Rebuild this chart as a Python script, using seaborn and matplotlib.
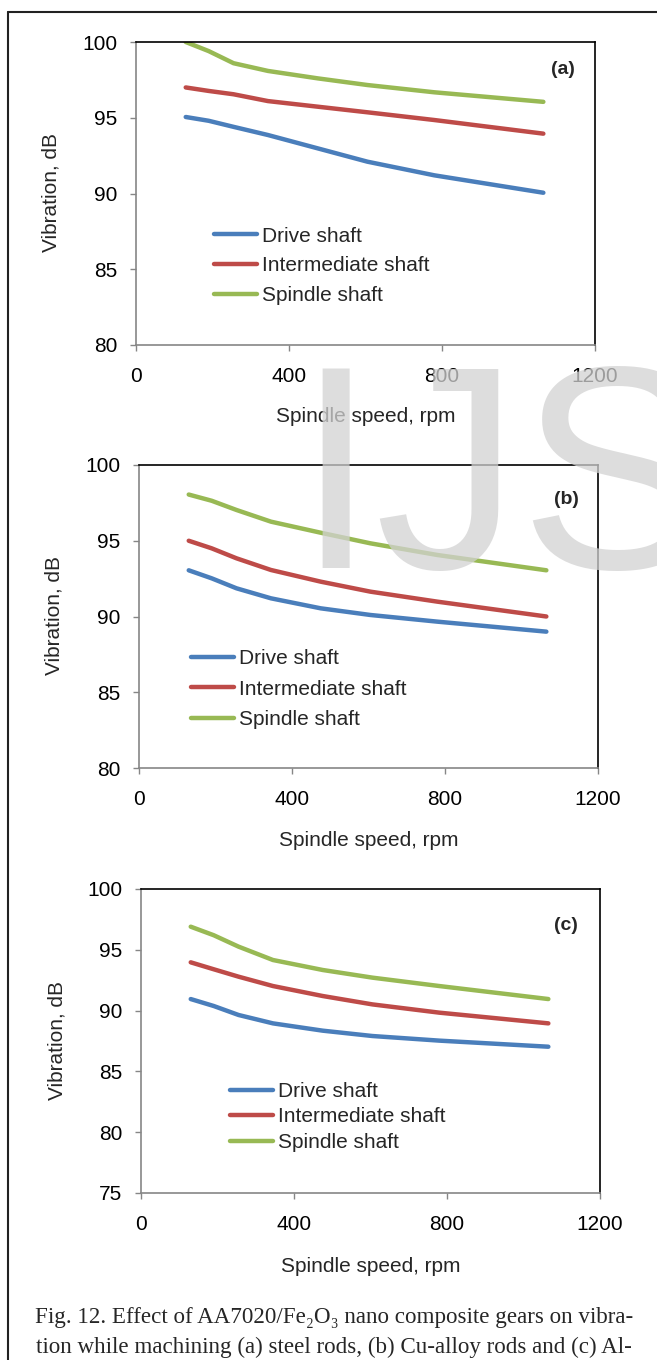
import pandas as pd
import seaborn as sns
import matplotlib.pyplot as plt
from matplotlib.lines import Line2D

# spindle speed (rpm) and vibration (dB)
speed = [130, 190, 255, 345, 475, 605, 780, 1065]
series = ["Drive shaft", "Intermediate shaft", "Spindle shaft"]

steel_drive = [95.05, 94.8, 94.4, 93.86, 92.98, 92.1, 91.2, 90.05]
steel_inter = [97.0, 96.77, 96.55, 96.1, 95.73, 95.36, 94.85, 93.95]
steel_spindle = [100.0, 99.4, 98.6, 98.09, 97.6, 97.16, 96.68, 96.05]

cu_drive = [93.05, 92.52, 91.86, 91.2, 90.54, 90.1, 89.66, 89.0]
cu_inter = [95.0, 94.5, 93.84, 93.07, 92.3, 91.64, 90.98, 90.0]
cu_spindle = [98.05, 97.64, 97.03, 96.26, 95.53, 94.83, 94.06, 93.05]

al_drive = [90.95, 90.38, 89.64, 88.95, 88.35, 87.91, 87.53, 87.03]
al_inter = [93.97, 93.4, 92.79, 92.02, 91.2, 90.51, 89.83, 88.95]
al_spindle = [96.9, 96.2, 95.26, 94.16, 93.34, 92.71, 92.02, 90.95]

panel_tags = ["(a)", "(b)", "(c)"]
x_ticks = [0, 400, 800, 1200]
y_ticks_ab = [80, 85, 90, 95, 100]
y_ticks_c = [75, 80, 85, 90, 95, 100]

caption_1 = "Fig. 12. Effect of AA7020/Fe\u2082O\u2083 nano composite gears on vibra-"
caption_2 = "tion while machining (a) steel rods, (b) Cu-alloy rods and (c) Al-"

W, H = 657, 1360
colors = ["#4A7EBB", "#BE4B48", "#98B954"]

sns.set_style("white")
plt.rcParams['font.family'] = ['Liberation Sans', 'DejaVu Sans']
plt.rcParams['font.size'] = 15


def frac(x0, y0, x1, y1):
    # pixel box -> figure fraction [left, bottom, width, height]
    return [x0 / W, 1 - y1 / H, (x1 - x0) / W, (y1 - y0) / H]


def long_form(vals):
    rows = []
    for name, v in zip(series, vals):
        for s, y in zip(speed, v):
            rows.append({"speed": s, "vib": y, "series": name})
    return pd.DataFrame(rows)


fig = plt.figure(figsize=(W / 100, H / 100), dpi=100)

panels = [
    dict(box=(136, 42, 595, 345), data=[steel_drive, steel_inter, steel_spindle], yt=y_ticks_ab,
         leg=(214, 266), lsp=0.52, ylab=(51, 193), xlab=417, tag=(563, 70)),
    dict(box=(139, 465, 598, 768), data=[cu_drive, cu_inter, cu_spindle], yt=y_ticks_ab,
         leg=(191, 689), lsp=0.55, ylab=(54, 616), xlab=840, tag=(566, 500)),
    dict(box=(141, 889, 600, 1193), data=[al_drive, al_inter, al_spindle], yt=y_ticks_c,
         leg=(230, 1117), lsp=0.32, ylab=(57, 1041), xlab=1266, tag=(566, 925)),
]

for p, tag in zip(panels, panel_tags):
    x0, y0, x1, y1 = p["box"]
    ax = fig.add_axes(frac(x0, y0, x1, y1))
    df = long_form(p["data"])
    sns.lineplot(data=df, x="speed", y="vib", hue="series", palette=colors,
                 linewidth=3.2, ax=ax, sort=False,
                 solid_capstyle="round", solid_joinstyle="round")
    ax.set_xlim(0, 1200)
    ax.set_ylim(p["yt"][0], p["yt"][-1])
    ax.set_xticks(x_ticks)
    ax.set_yticks(p["yt"])
    ax.set_xlabel("")
    ax.set_ylabel("")
    ax.tick_params(axis="both", direction="out", length=4.5, width=1, color="#868686",
                   labelsize=15, labelcolor="black")
    ax.tick_params(axis="x", pad=11)
    ax.tick_params(axis="y", pad=9)
    ax.tick_params(bottom=True, left=True)
    for side in ["left", "bottom"]:
        ax.spines[side].set_color("#868686")
        ax.spines[side].set_linewidth(1.2)
    for side in ["top", "right"]:
        ax.spines[side].set_color("black")
        ax.spines[side].set_linewidth(1.2)

    lx, ly = p["leg"]
    handles, labels = ax.get_legend_handles_labels()
    ax.legend(handles, labels, loc="center left",
              bbox_to_anchor=((lx - x0) / (x1 - x0), (y1 - ly) / (y1 - y0)),
              frameon=False, borderpad=0, borderaxespad=0, handlelength=2.05,
              handletextpad=0.25, labelspacing=p["lsp"], fontsize=15)

    fig.text(p["ylab"][0] / W, 1 - p["ylab"][1] / H, "Vibration, dB", rotation=90,
             ha="center", va="center", fontsize=15)
    fig.text((x0 + x1) / 2 / W, 1 - p["xlab"] / H, "Spindle speed, rpm",
             ha="center", va="center", fontsize=15)
    fig.text(p["tag"][0] / W, 1 - p["tag"][1] / H, tag, ha="center", va="center",
             fontsize=14, fontweight="bold")

# page frame (box continues past the right and bottom edges)
fig.add_artist(Line2D([8 / W, 1.0], [1 - 12 / H, 1 - 12 / H], color="#222222", lw=1.5))
fig.add_artist(Line2D([8 / W, 8 / W], [1 - 12 / H, 0.0], color="#222222", lw=1.5))

# caption, sized so the first line spans the same width as in the page
serif = ['Liberation Serif', 'DejaVu Serif']
t1 = fig.text(334 / W, 1 - 1318 / H, caption_1, ha="center", va="center",
              family=serif, fontsize=12)
fig.canvas.draw()
w = t1.get_window_extent().width
fs = 12 * 597 / w
t1.set_fontsize(fs)
fig.text(334 / W, 1 - 1347 / H, caption_2, ha="center", va="center",
         family=serif, fontsize=fs)

# watermark
fig.text(295 / W, 1 - 568 / H, "IJS", fontsize=208, color="#d2d2d2", alpha=0.75,
         ha="left", va="baseline", zorder=20)

fig.savefig("out.png", dpi=100)
